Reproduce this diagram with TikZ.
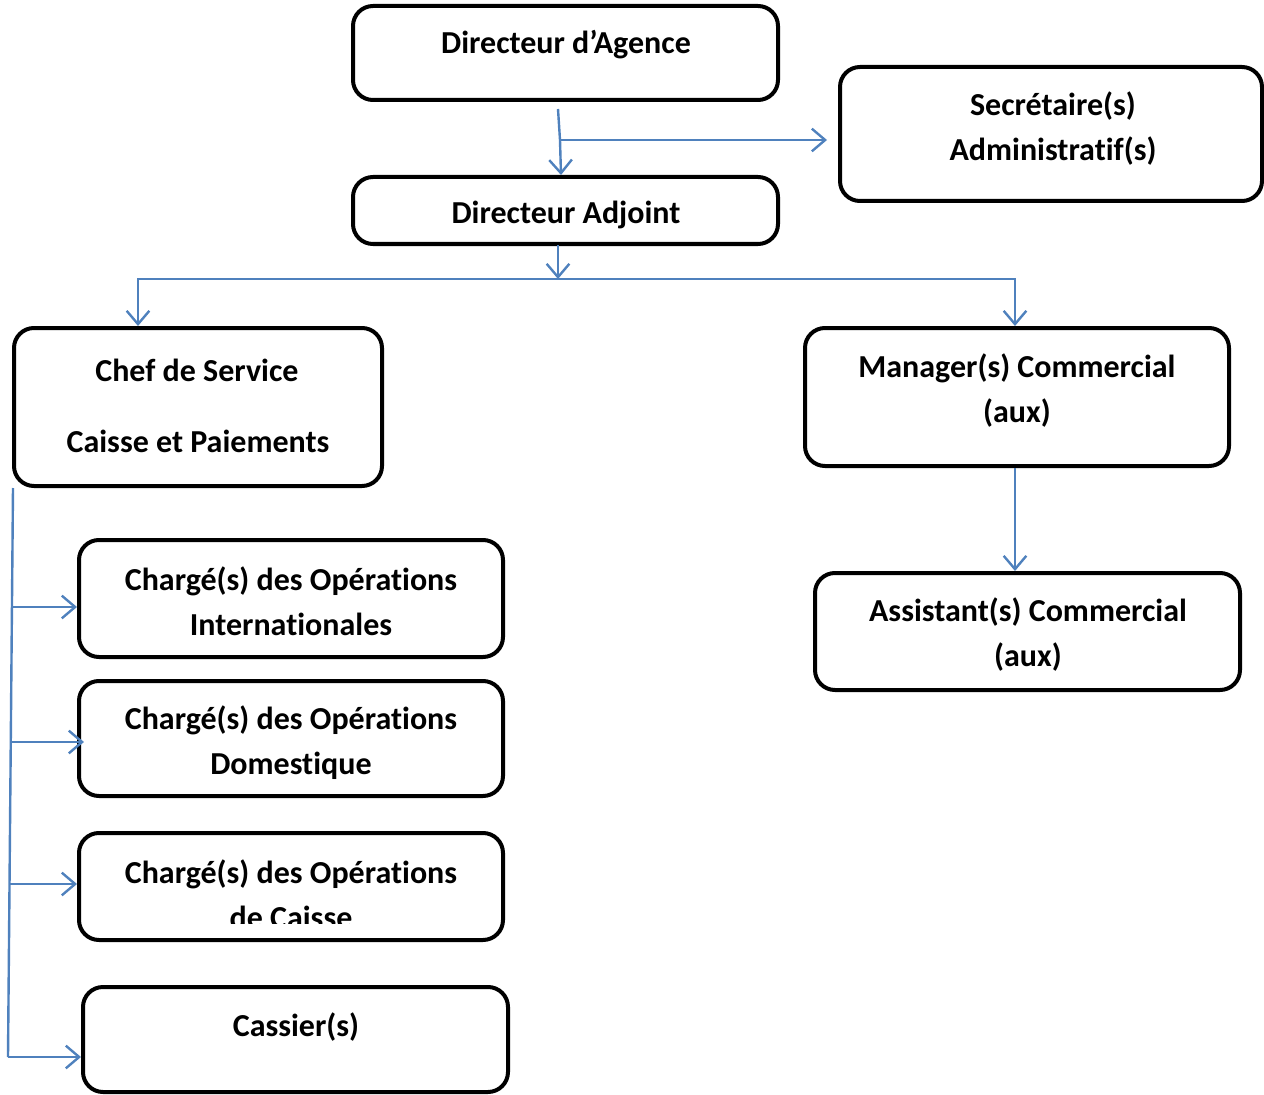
\documentclass[tikz,border=0pt]{standalone}
\usepackage{fontspec}
\setmainfont{Carlito}[Ligatures=NoCommon]
\usetikzlibrary{arrows.meta}
\definecolor{linkblue}{HTML}{4F81BD}
\tikzset{
  box/.style={draw=black, line width=3pt, rounded corners=15pt, inner sep=0pt},
  lbl/.style={font=\bfseries\fontsize{24}{33.75}\selectfont, align=center, inner sep=0pt},
  link/.style={draw=linkblue, line width=1.8pt},
  tip/.style={-{Straight Barb[length=10pt,width=17pt,line width=1.8pt]}}
}
\newcommand{\pbox}[5]{% name, x1, y1, x2, y2
  \node[box, minimum width={(#4-#2)*0.75pt}, minimum height={(#5-#3)*0.75pt}] (#1) at ({(#2+#4)/2},{(#3+#5)/2}) {};}
\begin{document}
\begin{tikzpicture}[x=0.75pt, y=-0.75pt]
\useasboundingbox (0,0) rectangle (1264,1095);
% boxes
\pbox{dir}{353}{6}{778}{100}
\pbox{sec}{840}{67}{1262}{201}
\pbox{adj}{353}{177}{778}{244}
\pbox{chef}{14}{328}{382}{486}
\pbox{man}{805}{328}{1229}{466}
\pbox{ass}{815}{573}{1240}{690}
\pbox{intl}{79}{540}{503}{657}
\pbox{dom}{79}{681}{503}{796}
\pbox{cai}{79}{833}{503}{940}
\pbox{cas}{83}{987}{508}{1092}
% texts
\node[lbl] (tdir) at (566,45) {Directeur d’Agence};
\node[lbl] (tsec) at (1053,129) {Secrétaire(s)\\Administratif(s)};
\node[lbl] (tadj) at (566,215) {Directeur Adjoint};
\node[lbl] (tchef1) at (197,370) {Chef de Service};
\node[lbl] (tchef2) at (198,441) {Caisse et Paiements};
\node[lbl] (tman) at (1017,391) {Manager(s) Commercial\\(aux)};
\node[lbl] (tass) at (1028,635) {Assistant(s) Commercial\\(aux)};
\node[lbl] (tintl) at (291,601) {Chargé(s) des Opérations\\Internationales};
\node[lbl] (tdom) at (291,743) {Chargé(s) des Opérations\\Domestique};
\begin{scope}
\clip (79,833) rectangle (503,923);
\node[lbl] (tcai) at (291,894) {Chargé(s) des Opérations\\de Caisse};
\end{scope}
\node[lbl] (tcas) at (296,1027) {Cassier(s)};
% connectors
\coordinate (a0) at (558,109);
\coordinate (a1) at (560,140);
\draw[link] (a0) -- (a1);
\draw[link,tip] (a1) -- (adj.north -| 561,0);
\draw[link,tip] (a1) -- (827,140);
\coordinate (b0) at (558,245);
\coordinate (b1) at (558,279);
\draw[link,tip] (b0) -- (b1);
\draw[link,tip] (b1) -- (138,279) -- (chef.north -| 138,0);
\draw[link,tip] (b1) -- (1015,279) -- (man.north -| 1015,0);
\draw[link,tip] (man.south -| 1015,0) -- (ass.north -| 1015,0);
\coordinate (c0) at (13,488);
\coordinate (c4) at (8,1057);
\draw[link] (c0) -- (c4);
\draw[link,tip] (12.5,607) -- (intl.west |- 0,607);
\draw[link,tip] (11.5,742) -- (84,742);
\draw[link,tip] (10,884) -- (cai.west |- 0,884);
\draw[link,tip] (c4) -- (cas.west |- 0,1057);
\end{tikzpicture}
\end{document}
